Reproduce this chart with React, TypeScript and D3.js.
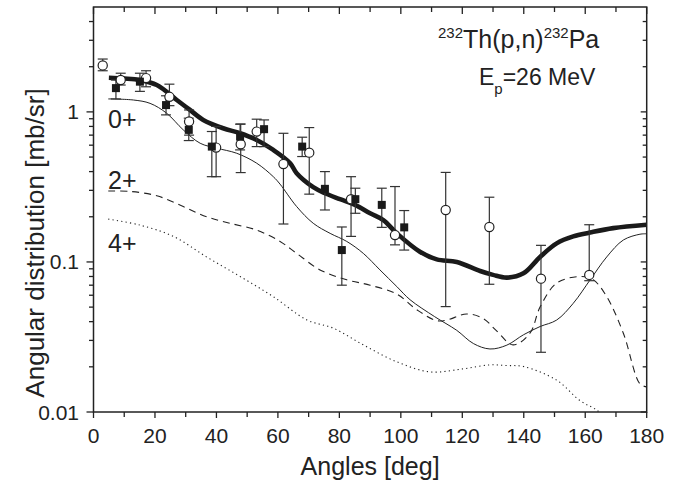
import React from 'react'
import * as d3 from 'd3'

// curves (angle in deg, value in mb/sr)
const totalAngles = [5, 10, 15.1, 20.6, 27.1, 31.4, 35.7, 42.2, 47.7, 53.1, 58.5, 64, 66.1, 71.5, 75.3, 80.2, 85.1, 90, 94.3, 98.7, 106.2, 111.7, 118.2, 125.8, 130, 134.5, 139.9, 145.3, 150.7, 156.1, 161.6, 169.1, 180]
const totalValues = [1.69, 1.67, 1.63, 1.51, 1.2, 1.03, 0.884, 0.778, 0.72, 0.65, 0.558, 0.455, 0.39, 0.315, 0.287, 0.262, 0.24, 0.211, 0.19, 0.155, 0.117, 0.104, 0.1, 0.087, 0.082, 0.0786, 0.084, 0.108, 0.133, 0.148, 0.157, 0.168, 0.177]

const gs0Angles = [4.8, 13, 18.4, 23.8, 29.2, 34.7, 40.1, 46.6, 53.1, 58.5, 60.7, 66.1, 71.5, 77, 82.4, 87.8, 93.2, 98.7, 103, 111, 118.2, 123.6, 129, 134.5, 139.9, 145.3, 150.7, 156.1, 161.6, 167, 172.4, 177.8, 180]
const gs0Values = [1.22, 1.2, 1.14, 0.98, 0.759, 0.618, 0.573, 0.53, 0.455, 0.37, 0.33, 0.234, 0.181, 0.155, 0.137, 0.114, 0.0885, 0.0685, 0.056, 0.0432, 0.035, 0.0286, 0.0263, 0.0279, 0.0327, 0.0371, 0.041, 0.053, 0.076, 0.108, 0.14, 0.153, 0.154]

const gs2Angles = [4.8, 11.9, 20.6, 29.2, 36.8, 44.4, 53.1, 60.7, 66.1, 73.7, 82.4, 90, 98.7, 105.2, 111.7, 115, 121.4, 126.8, 131, 136.5, 142, 145.3, 150.7, 158.3, 162.6, 167, 172.4, 177.8, 180]
const gs2Values = [0.297, 0.295, 0.276, 0.234, 0.2, 0.181, 0.163, 0.137, 0.114, 0.0885, 0.076, 0.07, 0.061, 0.048, 0.0406, 0.041, 0.045, 0.042, 0.035, 0.028, 0.0335, 0.05, 0.0722, 0.08, 0.076, 0.0587, 0.0335, 0.0154, 0.0147]

const gs4Angles = [4.8, 15.1, 26, 36.8, 47.7, 58.5, 69.4, 78, 87.8, 98.7, 109.5, 120.3, 129, 134.5, 139.9, 150.7, 158.3, 163.7, 168]
const gs4Values = [0.193, 0.176, 0.148, 0.108, 0.08, 0.0587, 0.0411, 0.0362, 0.028, 0.0216, 0.0185, 0.0194, 0.0206, 0.0204, 0.0201, 0.0163, 0.0119, 0.0103, 0.0085]

// measured points: open circles
const circAngles = [3.0, 8.85, 17.1, 24.7, 31.1, 39.9, 47.9, 53.1, 61.8, 70.2, 83.8, 98.1, 114.6, 128.8, 145.6, 161.3]
const circValues = [2.04, 1.63, 1.68, 1.26, 0.862, 0.578, 0.609, 0.739, 0.449, 0.535, 0.262, 0.151, 0.222, 0.171, 0.0774, 0.082]
const circLo = [1.88, 1.51, 1.47, 1.1, 0.7, 0.37, 0.394, 0.587, 0.179, 0.283, 0.148, 0.13, 0.0504, 0.071, 0.025, 0.075]
const circHi = [2.25, 1.81, 1.88, 1.53, 1.03, 0.8, 0.83, 0.894, 0.72, 0.786, 0.37, 0.318, 0.395, 0.27, 0.129, 0.177]

// measured points: filled squares
const sqAngles = [7.3, 15.1, 23.6, 31.0, 38.5, 47.7, 55.5, 67.9, 75.3, 80.8, 85.2, 93.8, 101.1]
const sqValues = [1.44, 1.59, 1.11, 0.759, 0.587, 0.684, 0.767, 0.587, 0.307, 0.12, 0.262, 0.24, 0.17]
const sqLo = [1.22, 1.37, 0.955, 0.644, 0.37, 0.558, 0.587, 0.504, 0.222, 0.07, 0.211, 0.17, 0.12]
const sqHi = [1.63, 1.81, 1.28, 0.908, 0.74, 0.828, 0.884, 0.678, 0.4, 0.171, 0.31, 0.31, 0.22]

const xTicks = [0, 20, 40, 60, 80, 100, 120, 140, 160, 180]
const yTicks = [0.01, 0.1, 1]
const yTickLabels = ['0.01', '0.1', '1']

const W = 684
const H = 485
const M = { left: 93.5, right: 37.3, top: 7, bottom: 73 }
const FONT = 'Liberation Sans, Arial, Helvetica, sans-serif'
const INK = '#222'

export default function App() {
  const x = d3.scaleLinear().domain([0, 180]).range([M.left, W - M.right])
  const y = d3.scaleLog().domain([0.01, 5]).range([H - M.bottom, M.top])
  const [x0, x1] = x.range()
  const [yb, yt] = y.range()

  const line = d3.line<[number, number]>()
    .x(d => x(d[0]))
    .y(d => y(d[1]))
    .curve(d3.curveCatmullRom.alpha(0.5))

  const zip = (a: number[], b: number[]) => a.map((v, i) => [v, b[i]] as [number, number])

  const minorX = d3.range(10, 180, 20)
  const minorY: number[] = []
  for (const dec of [0.01, 0.1, 1]) {
    for (let k = 2; k <= 9; k++) {
      const v = dec * k
      if (v < 5) minorY.push(v)
    }
  }

  return (
    <svg width={W} height={H} style={{ position: 'absolute', left: 0, top: 0, background: '#fff' }} fontFamily={FONT}>
      <defs>
        <clipPath id="plot">
          <rect x={x0} y={yt} width={x1 - x0} height={yb - yt} />
        </clipPath>
      </defs>

      <g clipPath="url(#plot)" fill="none">
        <path d={line(zip(gs4Angles, gs4Values)) || ''} stroke="#222" strokeWidth={1.1} strokeDasharray="1.2 3.2" />
        <path d={line(zip(gs2Angles, gs2Values)) || ''} stroke="#222" strokeWidth={1.1} strokeDasharray="7 5" />
        <path d={line(zip(gs0Angles, gs0Values)) || ''} stroke="#222" strokeWidth={1} />
        <path d={line(zip(totalAngles, totalValues)) || ''} stroke="#1a1a1a" strokeWidth={4.6} />
      </g>

      {/* error bars */}
      <g stroke="#333" strokeWidth={1.2}>
        {circAngles.map((a, i) => (
          <g key={'ce' + i}>
            <line x1={x(a)} x2={x(a)} y1={y(circLo[i])} y2={y(circHi[i])} />
            <line x1={x(a) - 5} x2={x(a) + 5} y1={y(circLo[i])} y2={y(circLo[i])} />
            <line x1={x(a) - 5} x2={x(a) + 5} y1={y(circHi[i])} y2={y(circHi[i])} />
          </g>
        ))}
        {sqAngles.map((a, i) => (
          <g key={'se' + i}>
            <line x1={x(a)} x2={x(a)} y1={y(sqLo[i])} y2={y(sqHi[i])} />
            <line x1={x(a) - 5} x2={x(a) + 5} y1={y(sqLo[i])} y2={y(sqLo[i])} />
            <line x1={x(a) - 5} x2={x(a) + 5} y1={y(sqHi[i])} y2={y(sqHi[i])} />
          </g>
        ))}
      </g>

      {circAngles.map((a, i) => (
        <circle key={'c' + i} cx={x(a)} cy={y(circValues[i])} r={4.6} fill="#fff" stroke="#222" strokeWidth={1.2} />
      ))}
      {sqAngles.map((a, i) => (
        <rect key={'s' + i} x={x(a) - 4} y={y(sqValues[i]) - 4} width={8} height={8} fill="#1a1a1a" />
      ))}

      {/* frame */}
      <rect x={x0} y={yt} width={x1 - x0} height={yb - yt} fill="none" stroke={INK} strokeWidth={1.5} />

      {/* x ticks: bottom outward, top inward */}
      <g stroke={INK} strokeWidth={1.3}>
        {xTicks.map(t => (
          <g key={'xt' + t}>
            <line x1={x(t)} x2={x(t)} y1={yb} y2={yb + 6} />
            <line x1={x(t)} x2={x(t)} y1={yt} y2={yt + 7} />
          </g>
        ))}
        {minorX.map(t => (
          <g key={'xm' + t}>
            <line x1={x(t)} x2={x(t)} y1={yb} y2={yb + 5} />
            <line x1={x(t)} x2={x(t)} y1={yt} y2={yt + 5} />
          </g>
        ))}
        {yTicks.map(t => (
          <g key={'yt' + t}>
            <line x1={x0 - 7} x2={x0} y1={y(t)} y2={y(t)} />
            <line x1={x1 - 6} x2={x1} y1={y(t)} y2={y(t)} />
          </g>
        ))}
        {minorY.map(t => (
          <g key={'ym' + t}>
            <line x1={x0 - 4.5} x2={x0} y1={y(t)} y2={y(t)} />
            <line x1={x1 - 4} x2={x1} y1={y(t)} y2={y(t)} />
          </g>
        ))}
      </g>

      <g fill={INK} fontSize={21}>
        {xTicks.map(t => (
          <text key={'xl' + t} x={x(t)} y={443} textAnchor="middle">{t}</text>
        ))}
        {yTicks.map((t, i) => (
          <text key={'yl' + t} x={79} y={y(t) + 7.5} textAnchor="end">{yTickLabels[i]}</text>
        ))}
      </g>

      <text x={(x0 + x1) / 2} y={475} textAnchor="middle" fontSize={25} fill={INK}>Angles [deg]</text>
      <text transform="translate(44, 243) rotate(-90)" textAnchor="middle" fontSize={26} fill={INK}>
        Angular distribution [mb/sr]
      </text>

      <g fill={INK}>
        <text x={108} y={128} fontSize={25}>0+</text>
        <text x={108} y={189} fontSize={25}>2+</text>
        <text x={108} y={252} fontSize={25}>4+</text>
      </g>

      <text x={438} y={48} fontSize={25} fill={INK}>
        <tspan fontSize={15} dy={-10}>232</tspan>
        <tspan dy={10}>Th(p,n)</tspan>
        <tspan fontSize={15} dy={-10}>232</tspan>
        <tspan dy={10}>Pa</tspan>
      </text>
      <text x={479} y={85} fontSize={23} fill={INK}>
        <tspan>E</tspan>
        <tspan fontSize={15} dy={9}>p</tspan>
        <tspan dy={-9}>=26 MeV</tspan>
      </text>
    </svg>
  )
}
